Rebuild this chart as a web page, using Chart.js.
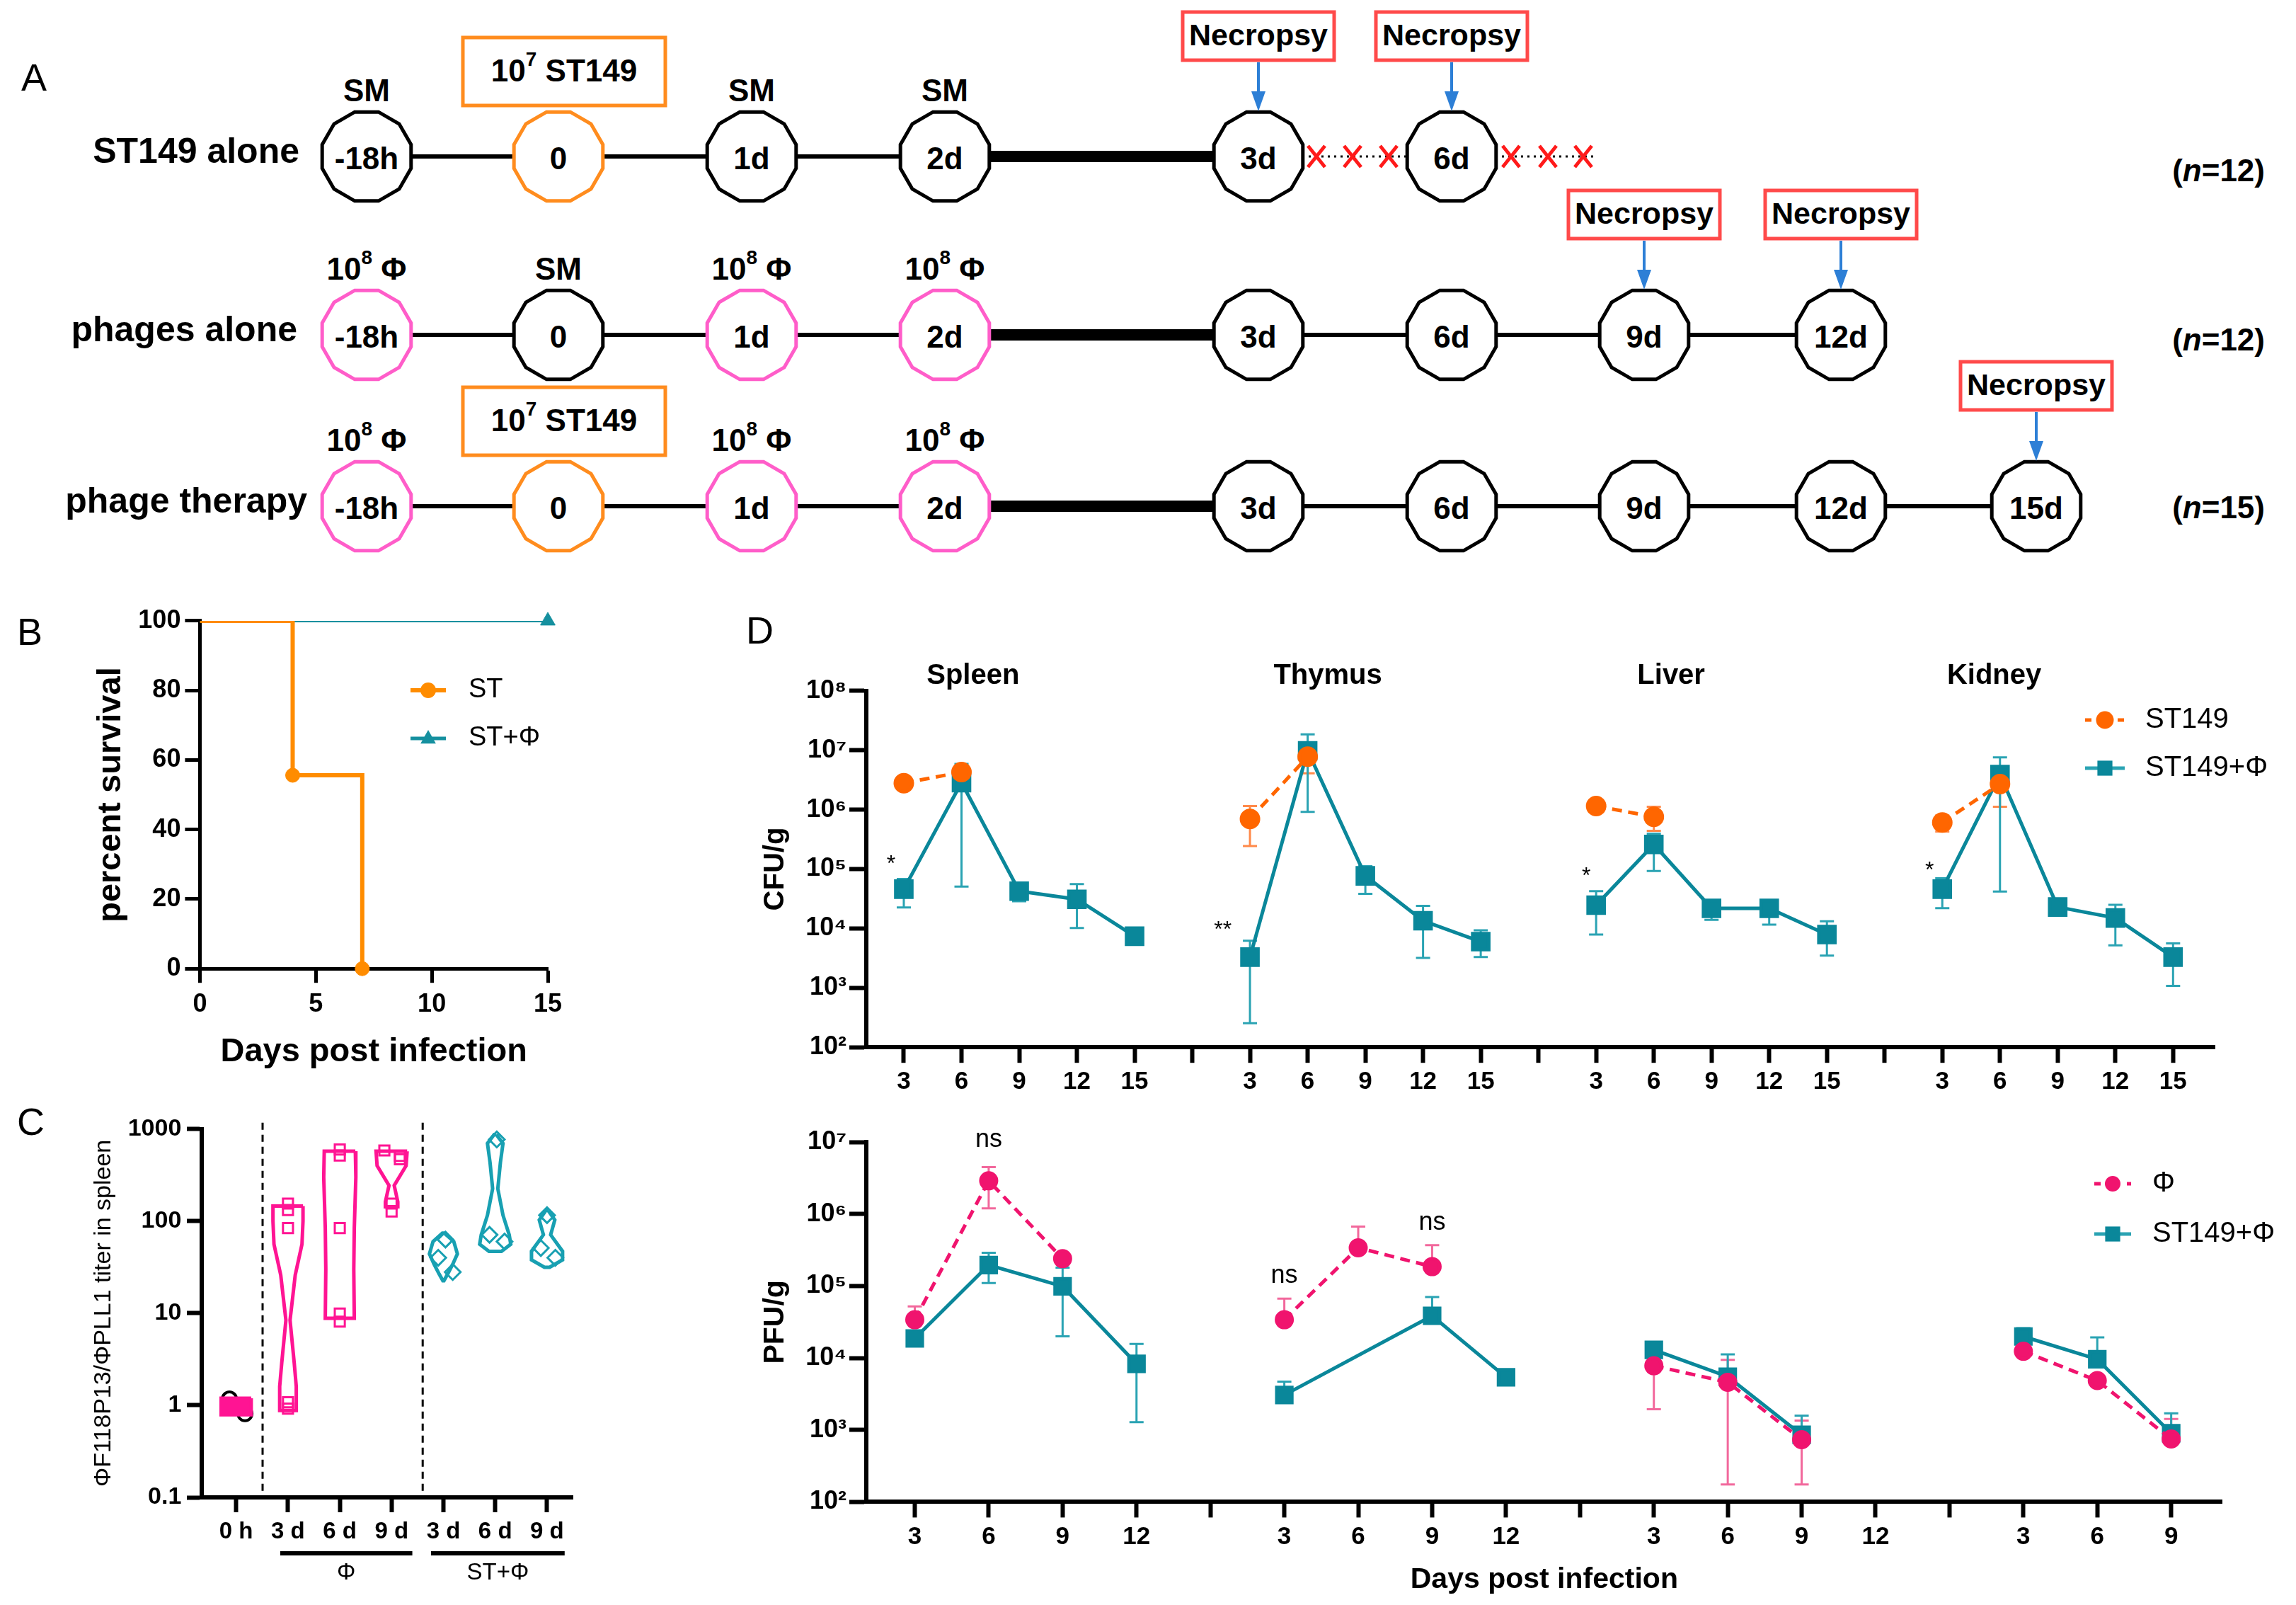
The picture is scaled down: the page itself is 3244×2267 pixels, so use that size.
<!DOCTYPE html>
<html>
<head>
<meta charset="utf-8">
<title>Phage therapy figure</title>
<script src="https://cdn.jsdelivr.net/npm/chart.js@4.4.1/dist/chart.umd.min.js"></script>
<style>
  html, body { margin: 0; padding: 0; background: #fff; }
  #page { position: relative; width: 3244px; height: 2267px; overflow: hidden;
          font-family: 'Liberation Sans', Arial, Helvetica, sans-serif; }
  canvas { position: absolute; }
  .panel { position: absolute; font-size: 54px; line-height: 1; color: #000; }
</style>
</head>
<body>
<div id="page">
  <svg id="schema" width="3244" height="800" style="position:absolute;left:0;top:0"></svg>
  <canvas id="survival" width="820" height="680" style="left:0;top:840px"></canvas>
  <canvas id="titer" width="830" height="727" style="left:0;top:1540px"></canvas>
  <canvas id="cfu" width="2204" height="720" style="left:1040px;top:840px"></canvas>
  <canvas id="pfu" width="2204" height="707" style="left:1040px;top:1560px"></canvas>
  <div class="panel" style="left:30px;top:82px">A</div>
  <div class="panel" style="left:24px;top:865px">B</div>
  <div class="panel" style="left:24px;top:1557px">C</div>
  <div class="panel" style="left:1054px;top:863px">D</div>
</div>
<script>
// ---------- data ----------
// A: schedule
const stageLabels = ['-18h', '0', '1d', '2d', '3d', '6d', '9d', '12d', '15d'];
const groups = ['ST149 alone', 'phages alone', 'phage therapy'];
const groupN = [12, 12, 15];
const groupStages = [6, 8, 9];
const groupDoses = [['SM', 'ST', 'SM', 'SM'], ['PHI', 'SM', 'PHI', 'PHI'], ['PHI', 'ST', 'PHI', 'PHI']];
const groupNecropsy = [[4, 5], [6, 7], [8]];

// B: survival
const survDays = [0, 4, 7];
const survST = [100, 55.6, 0];
const survPhiDays = [0, 15];
const survPhi = [100, 100];

// C: phage titer ratio in spleen
const titerGroups = ['0 h', '3 d', '6 d', '9 d', '3 d', '6 d', '9 d'];
const titerValues = [
  [1.17, 0.955, 0.81],
  [155, 132, 84, 1.08, 0.92],
  [600, 515, 84, 9.9, 8.1],
  [585, 510, 470, 155, 127],
  [63, 40, 28],
  [770, 71, 60],
  [116, 51, 40]
];
// violin outline: [value, half width]
const titerViolins = [
  [[1.19, 0.29], [0.79, 0.29]],
  [[146, 0.29], [100, 0.29], [56, 0.27], [26, 0.14], [8.4, 0.04], [2.9, 0.12], [1.6, 0.16], [0.88, 0.16]],
  [[575, 0.3], [300, 0.31], [84, 0.28], [30, 0.27], [8.8, 0.28]],
  [[575, 0.3], [400, 0.28], [244, 0.05], [162, 0.12], [143, 0.12]],
  [[74, 0.02], [60, 0.2], [44, 0.27], [34, 0.18], [26.5, 0.08], [22.5, 0.01]],
  [[870, 0.02], [700, 0.15], [433, 0.1], [225, 0.05], [116, 0.15], [71, 0.27], [56, 0.3], [47, 0.12]],
  [[131, 0.02], [103, 0.15], [71, 0.07], [47, 0.3], [38, 0.3], [31.5, 0.05]]
];
const titerUnder = [{from: 0.85, to: 3.4, text: 'Φ'}, {from: 3.76, to: 6.34, text: 'ST+Φ'}];
const titerSeparators = [0.51, 3.6];

// D top: CFU/g
const cfuDays = [3, 6, 9, 12, 15];
const cfuOrgans = ['Spleen', 'Thymus', 'Liver', 'Kidney'];
const cfuST149 = [[2.8e6, 4.3e6], [7.0e5, 7.8e6], [1.15e6, 7.6e5], [6.1e5, 2.7e6]];
const cfuST149Lo = [[null, null], [2.45e5, 4.1e6], [null, 4.4e5], [4.3e5, 1.12e6]];
const cfuST149Hi = [[null, null], [1.15e6, 1.18e7], [null, 1.12e6], [8.0e5, 4.2e6]];
const cfuCombo = [[4.6e4, 2.86e6, 4.25e4, 3.1e4, 7.4e3], [3.3e3, 9.8e6, 7.7e4, 1.35e4, 6.0e3],
                  [2.47e4, 2.6e5, 2.18e4, 2.18e4, 7.9e3], [4.6e4, 3.9e6, 2.3e4, 1.5e4, 3.3e3]];
const cfuComboLo = [[2.26e4, 5.06e4, 2.87e4, 1.02e4, 6.8e3], [254, 9.2e5, 3.84e4, 3.2e3, 3.3e3],
                    [7.9e3, 9.3e4, 1.4e4, 1.16e4, 3.5e3], [2.2e4, 4.2e4, 2.0e4, 5.2e3, 1.08e3]];
const cfuComboHi = [[6.8e4, 5.9e6, 4.9e4, 5.6e4, 8.4e3], [6.2e3, 1.85e7, 1.12e5, 2.4e4, 9.3e3],
                    [4.24e4, 3.95e5, 2.63e4, 3.0e4, 1.32e4], [7.0e4, 7.6e6, 2.6e4, 2.5e4, 5.6e3]];
const cfuStars = ['*', '**', '*', '*'];
const cfuStarValue = [1.5e5, 1.16e4, 9.3e4, 1.15e5];

// D bottom: PFU/g
const pfuDays = [3, 6, 9, 12];
const pfuTickCount = [4, 4, 4, 3];
const pfuPhi = [[3.4e4, 2.9e6, 2.4e5], [3.4e4, 3.4e5, 1.86e5], [7.8e3, 4.6e3, 733], [1.24e4, 4.85e3, 748]];
const pfuPhiLo = [[null, 1.2e6, null], [null, null, null], [1.94e3, 175, 175], [null, null, null]];
const pfuPhiHi = [[5.2e4, 4.5e6, null], [6.7e4, 6.7e5, 3.7e5], [null, 9.4e3, 1.35e3], [null, null, 1.42e3]];
const pfuCombo = [[1.87e4, 1.96e5, 9.9e4, 8.3e3], [3.06e3, null, 3.86e4, 5.4e3], [1.3e4, 5.5e3, 855], [1.99e4, 9.6e3, 900]];
const pfuComboLo = [[1.5e4, 1.1e5, 2.0e4, 1.28e3], [null, null, null, null], [null, null, null], [null, null, null]];
const pfuComboHi = [[2.2e4, 2.9e5, 1.8e5, 1.57e4], [4.7e3, null, 7.05e4, null], [null, 1.12e4, 1.58e3], [2.6e4, 1.93e4, 1.7e3]];
const pfuNs = [{slot: 2, y: 1.07e7}, {slot: 6, y: 1.4e5}, {slot: 8, y: 7.5e5}];

// ---------- style ----------
const FONT = "'Liberation Sans', Arial, Helvetica, sans-serif";
const TEAL = '#0A879A', TEAL_ERR = '#2AA3B3';
const ORANGE_D = '#FF6600', ORANGE_ERR = '#FF8A4A';
const PINK_D = '#F0146E', PINK_ERR = '#F2689C';
const ORANGE_B = '#FF8C00', TEAL_B = '#15909F';
const PINK_C = '#FF1493', TEAL_C = '#18A0B2';
const PINK_A = '#FF5DC9', ORANGE_A = '#FF8C1E', RED_A = '#FF4A4A', BLUE_A = '#2D7FD6';
const SUP = {2: '²', 3: '³', 4: '⁴', 5: '⁵', 6: '⁶', 7: '⁷', 8: '⁸'};

Chart.defaults.font.family = FONT;
Chart.defaults.color = '#000';
Chart.defaults.animation = false;

// ---------- A: schedule drawn as SVG ----------
const schema = document.getElementById('schema');
const stageX = [518, 789, 1062, 1335, 1778, 2051, 2323, 2601, 2877];
const rowY = [221, 473, 715];
const rowLabelX = [423, 420, 434];
const nLabelY = [240, 479, 716];
const deadX = [1860, 1911, 1962, 2135, 2187, 2237];

function svgEl(tag, attrs, text) {
  const e = document.createElementNS('http://www.w3.org/2000/svg', tag);
  for (const k in attrs) e.setAttribute(k, attrs[k]);
  if (text !== undefined) e.textContent = text;
  schema.appendChild(e);
  return e;
}
function dodecagon(cx, cy, r) {
  const pts = [];
  for (let i = 0; i < 12; i++) {
    const a = (15 + 30 * i) * Math.PI / 180;
    pts.push((cx + r * Math.cos(a)).toFixed(1) + ',' + (cy + r * Math.sin(a)).toFixed(1));
  }
  return pts.join(' ');
}
function doseText(x, y, kind) {
  const t = svgEl('text', {x: x, y: y, 'text-anchor': 'middle', 'dominant-baseline': 'central',
    'font-family': FONT, 'font-weight': 'bold', 'font-size': 44});
  if (kind === 'SM') { t.textContent = 'SM'; return; }
  const big = kind === 'ST';
  t.innerHTML = '10<tspan dy="-16" font-size="28">' + (big ? '7' : '8') + '</tspan><tspan dy="16"> ' + (big ? 'ST149' : 'Φ') + '</tspan>';
}

groups.forEach((name, r) => {
  const y = rowY[r];
  const count = groupStages[r];
  // connectors
  for (let i = 0; i < count - 1; i++) {
    svgEl('line', {x1: stageX[i] + 62, y1: y, x2: stageX[i + 1] - 62, y2: y,
      stroke: '#000', 'stroke-width': i === 3 ? 16 : 6});
  }
  if (r === 0) {
    svgEl('line', {x1: stageX[4] + 62, y1: y, x2: stageX[5] - 62, y2: y, stroke: '#fff', 'stroke-width': 8});
    svgEl('line', {x1: stageX[4] + 62, y1: y, x2: stageX[5] - 62, y2: y, stroke: '#000', 'stroke-width': 3, 'stroke-dasharray': '3 6'});
    svgEl('line', {x1: stageX[5] + 62, y1: y, x2: 2255, y2: y, stroke: '#000', 'stroke-width': 3, 'stroke-dasharray': '3 6'});
    deadX.forEach(x => {
      svgEl('path', {d: `M${x - 12} ${y - 15} L${x + 12} ${y + 15} M${x + 12} ${y - 15} L${x - 12} ${y + 15}`,
        stroke: '#FF1A1A', 'stroke-width': 5, fill: 'none'});
    });
  }
  // nodes
  for (let i = 0; i < count; i++) {
    const dose = groupDoses[r][i];
    const col = dose === 'ST' ? ORANGE_A : dose === 'PHI' ? PINK_A : '#000';
    svgEl('polygon', {points: dodecagon(stageX[i], y, 65), fill: '#fff', stroke: col, 'stroke-width': 5});
    svgEl('text', {x: stageX[i], y: y + 2, 'text-anchor': 'middle', 'dominant-baseline': 'central',
      'font-family': FONT, 'font-weight': 'bold', 'font-size': 44}, stageLabels[i]);
    if (dose === 'ST') {
      svgEl('rect', {x: stageX[i] + 8 - 143, y: y - 168, width: 286, height: 96, fill: '#fff', stroke: ORANGE_A, 'stroke-width': 5});
      doseText(stageX[i] + 8, y - 122, 'ST');
    } else if (dose) {
      doseText(stageX[i], y - 94, dose);
    }
  }
  // necropsy
  groupNecropsy[r].forEach(i => {
    const x = stageX[i];
    svgEl('rect', {x: x - 107, y: y - 204, width: 214, height: 68, fill: '#fff', stroke: RED_A, 'stroke-width': 5});
    svgEl('text', {x: x, y: y - 172, 'text-anchor': 'middle', 'dominant-baseline': 'central',
      'font-family': FONT, 'font-weight': 'bold', 'font-size': 43}, 'Necropsy');
    svgEl('line', {x1: x, y1: y - 133, x2: x, y2: y - 90, stroke: BLUE_A, 'stroke-width': 4});
    svgEl('polygon', {points: `${x - 10},${y - 92} ${x + 10},${y - 92} ${x},${y - 64}`, fill: BLUE_A});
  });
  // row label and n
  svgEl('text', {x: rowLabelX[r], y: y - 8, 'text-anchor': 'end', 'dominant-baseline': 'central',
    'font-family': FONT, 'font-weight': 'bold', 'font-size': 50}, name);
  const n = svgEl('text', {x: 3200, y: nLabelY[r], 'text-anchor': 'end', 'dominant-baseline': 'central',
    'font-family': FONT, 'font-weight': 'bold', 'font-size': 44});
  n.innerHTML = '(<tspan font-style="italic">n</tspan>=' + groupN[r] + ')';
});

// ---------- shared chart helpers ----------
function axis(extra) {
  return Object.assign({
    border: {display: true, color: '#000', width: 6},
    grid: {display: true, drawOnChartArea: false, drawTicks: true, tickLength: 22, tickWidth: 6, tickColor: '#000'}
  }, extra);
}
function drawMarker(ctx, style, x, y, r) {
  ctx.beginPath();
  if (style === 'circle') ctx.arc(x, y, r, 0, Math.PI * 2);
  else if (style === 'rect') { const s = r * Math.SQRT1_2; ctx.rect(x - s, y - s, 2 * s, 2 * s); }
  else if (style === 'triangle') { ctx.moveTo(x, y - r); ctx.lineTo(x + r * 0.9, y + r * 0.6); ctx.lineTo(x - r * 0.9, y + r * 0.6); ctx.closePath(); }
  ctx.fill();
}
function legendEntry(ctx, e) {
  ctx.save();
  ctx.strokeStyle = e.lineColor || e.color;
  ctx.lineWidth = e.lineWidth || 5;
  ctx.setLineDash(e.dash || []);
  ctx.beginPath(); ctx.moveTo(e.x0, e.y); ctx.lineTo(e.x1, e.y); ctx.stroke();
  ctx.setLineDash([]);
  ctx.fillStyle = e.color;
  drawMarker(ctx, e.style, (e.x0 + e.x1) / 2, e.y, e.r);
  ctx.fillStyle = '#000';
  ctx.font = e.font;
  ctx.textAlign = 'left'; ctx.textBaseline = 'middle';
  ctx.fillText(e.text, e.tx, e.y);
  ctx.restore();
}
const errorBars = {
  id: 'errorBars',
  beforeDatasetsDraw(chart) {
    const {ctx} = chart;
    const xs = chart.scales.x, ys = chart.scales.y;
    chart.data.datasets.forEach(ds => {
      if (!ds.errLo) return;
      ctx.save();
      ctx.strokeStyle = ds.errColor;
      ctx.lineWidth = 3;
      ds.data.forEach((p, j) => {
        if (p.y == null) return;
        const px = xs.getPixelForValue(p.x), py = ys.getPixelForValue(p.y);
        [ds.errLo[j], ds.errHi[j]].forEach(v => {
          if (v == null) return;
          const e = ys.getPixelForValue(v);
          ctx.beginPath();
          ctx.moveTo(px, py); ctx.lineTo(px, e);
          ctx.moveTo(px - 10, e); ctx.lineTo(px + 10, e);
          ctx.stroke();
        });
      });
      ctx.restore();
    });
  }
};
const baseOptions = {
  responsive: false,
  devicePixelRatio: 1,
  animation: false,
  events: [],
  plugins: {legend: {display: false}, tooltip: {enabled: false}}
};

// ---------- B: survival ----------
new Chart(document.getElementById('survival'), {
  type: 'scatter',
  data: {
    datasets: [
      {data: survDays.map((d, i) => ({x: d, y: survST[i]})), showLine: true, stepped: true,
       borderColor: ORANGE_B, borderWidth: 6, pointRadius: 0, clip: 0},
      {data: survDays.slice(1).map((d, i) => ({x: d, y: survST[i + 1]})), pointRadius: 10,
       pointBackgroundColor: ORANGE_B, pointBorderColor: ORANGE_B, clip: false},
      {data: survPhiDays.map((d, i) => ({x: d, y: survPhi[i]})), showLine: true,
       borderColor: TEAL_B, borderWidth: 4, pointRadius: 0, clip: 0},
      {data: [{x: survPhiDays[1], y: survPhi[1]}], pointStyle: 'triangle', pointRadius: 12,
       pointBackgroundColor: TEAL_B, pointBorderColor: TEAL_B, clip: false}
    ]
  },
  options: Object.assign({}, baseOptions, {
    layout: {padding: {top: 36.9, right: 46, left: 0, bottom: 0}},
    scales: {
      x: axis({type: 'linear', min: 0, max: 15,
        afterBuildTicks: s => { s.ticks = [0, 5, 10, 15].map(v => ({value: v})); },
        afterFit: s => { s.height = 151.8; },
        ticks: {font: {size: 36, weight: 'bold'}, padding: 9, maxRotation: 0},
        grid: {display: true, drawOnChartArea: false, drawTicks: true, tickLength: 20, tickWidth: 5, tickColor: '#000'},
        border: {display: true, color: '#000', width: 5},
        title: {display: true, text: 'Days post infection', font: {size: 47, weight: 'bold', lineHeight: 1.2}, padding: {top: 0, bottom: 5.8}}}),
      y: axis({type: 'linear', min: 0, max: 100,
        afterBuildTicks: s => { s.ticks = [0, 20, 40, 60, 80, 100].map(v => ({value: v})); },
        afterFit: s => { s.width = 282.4; },
        ticks: {font: {size: 36, weight: 'bold'}, padding: 6},
        grid: {display: true, drawOnChartArea: false, drawTicks: true, tickLength: 21, tickWidth: 5, tickColor: '#000'},
        border: {display: true, color: '#000', width: 5},
        title: {display: true, text: 'percent survival', font: {size: 47, weight: 'bold', lineHeight: 1.2}, padding: {top: 128.8, bottom: 0}}})
    }
  }),
  plugins: [{
    id: 'survLegend',
    afterDraw(chart) {
      const ctx = chart.ctx;
      legendEntry(ctx, {x0: 580, x1: 630, y: 135, color: ORANGE_B, style: 'circle', r: 11, text: 'ST', tx: 662, font: '38px ' + FONT, lineWidth: 6});
      legendEntry(ctx, {x0: 580, x1: 630, y: 203, color: TEAL_B, style: 'triangle', r: 12, text: 'ST+Φ', tx: 662, font: '38px ' + FONT, lineWidth: 5});
    }
  }]
});

// ---------- C: titer violins ----------
const titerJitter = [[-0.13, 0.01, 0.17], [0, 0, 0, 0, 0], [0, 0, 0, 0, 0], [-0.14, 0.16, 0.16, 0, 0],
                     [0.04, -0.1, 0.18], [0.03, -0.11, 0.18], [0, -0.12, 0.16]];
const titerSets = [];
titerViolins.forEach((outline, g) => {
  const col = g >= 4 ? TEAL_C : PINK_C;
  const right = outline.map(([v, w]) => ({x: g + w, y: v}));
  const left = outline.slice().reverse().map(([v, w]) => ({x: g - w, y: v}));
  const pts = right.concat(left, [right[0]]);
  titerSets.push({data: pts, showLine: true, borderColor: col, borderWidth: 5, pointRadius: 0,
    fill: g === 0 ? 'shape' : false, backgroundColor: col, clip: false});
});
titerValues.forEach((vals, g) => {
  const style = g === 0 ? 'circle' : g >= 4 ? 'rectRot' : 'rect';
  const col = g === 0 ? '#000' : g >= 4 ? TEAL_C : PINK_C;
  titerSets.push({data: vals.map((v, k) => ({x: g + titerJitter[g][k], y: v})),
    pointStyle: style, pointRadius: g === 0 ? 10 : g >= 4 ? 11 : 10, pointBorderWidth: g === 0 ? 4 : 3,
    pointBorderColor: col, pointBackgroundColor: 'rgba(0,0,0,0)', clip: false});
});
titerSeparators.forEach(s => {
  titerSets.push({data: [{x: s, y: 1170}, {x: s, y: 0.1}], showLine: true, borderColor: '#000',
    borderWidth: 3, borderDash: [10, 7], pointRadius: 0, clip: false});
});

new Chart(document.getElementById('titer'), {
  type: 'scatter',
  data: {datasets: titerSets},
  options: Object.assign({}, baseOptions, {
    layout: {padding: {top: 54.7, right: 20.5, left: 0, bottom: 0}},
    scales: {
      x: axis({type: 'linear', min: -0.665, max: 6.5,
        afterBuildTicks: s => { s.ticks = titerGroups.map((t, i) => ({value: i})); },
        afterFit: s => { s.height = 152; },
        ticks: {font: {size: 33, weight: 'bold'}, padding: 8, maxRotation: 0, autoSkip: false,
          callback: v => titerGroups[v] || ''},
        grid: {display: true, drawOnChartArea: false, drawTicks: true, tickLength: 21, tickWidth: 6, tickColor: '#000'}}),
      y: axis({type: 'logarithmic', min: 0.1, max: 1000,
        afterBuildTicks: s => { s.ticks = [0.1, 1, 10, 100, 1000].map(v => ({value: v})); },
        afterFit: s => { s.width = 285; },
        ticks: {font: {size: 34, weight: 'bold'}, padding: 7.7, callback: v => String(v)},
        grid: {display: true, drawOnChartArea: false, drawTicks: true, tickLength: 21, tickWidth: 6, tickColor: '#000'},
        title: {display: true, text: 'ΦF118P13/ΦPLL1 titer in spleen', font: {size: 34, lineHeight: 1.2}, padding: {top: 126, bottom: 0}}})
    }
  }),
  plugins: [{
    id: 'titerUnder',
    afterDraw(chart) {
      const ctx = chart.ctx, xs = chart.scales.x;
      ctx.save();
      titerUnder.forEach(u => {
        ctx.fillStyle = '#000';
        const a = xs.getPixelForValue(u.from), b = xs.getPixelForValue(u.to);
        ctx.fillRect(a, 651, b - a, 6);
        ctx.font = '33px ' + FONT;
        ctx.textAlign = 'center'; ctx.textBaseline = 'middle';
        ctx.fillText(u.text, (a + b) / 2, 682);
      });
      ctx.restore();
    }
  }]
});

// ---------- D top: CFU ----------
const cfuSlots = [], cfuText = {};
cfuOrgans.forEach((o, g) => {
  cfuDays.forEach((d, k) => { cfuSlots.push(g * 6 + 1 + k); cfuText[g * 6 + 1 + k] = String(d); });
  if (g < cfuOrgans.length - 1) { cfuSlots.push(g * 6 + 6); cfuText[g * 6 + 6] = ''; }
});
const cfuSets = [];
cfuOrgans.forEach((o, g) => {
  cfuSets.push({data: cfuST149[g].map((v, k) => ({x: g * 6 + 1 + k, y: v})),
    errLo: cfuST149Lo[g], errHi: cfuST149Hi[g], errColor: ORANGE_ERR,
    showLine: true, borderColor: ORANGE_D, borderWidth: 5, borderDash: [14, 9],
    pointStyle: 'circle', pointRadius: 12, pointBackgroundColor: ORANGE_D, pointBorderColor: ORANGE_D, clip: false});
});
cfuOrgans.forEach((o, g) => {
  cfuSets.push({data: cfuCombo[g].map((v, k) => ({x: g * 6 + 1 + k, y: v})),
    errLo: cfuComboLo[g], errHi: cfuComboHi[g], errColor: TEAL_ERR,
    showLine: true, spanGaps: true, borderColor: TEAL, borderWidth: 5,
    pointStyle: 'rect', pointRadius: 16, pointBackgroundColor: TEAL, pointBorderColor: TEAL, clip: false});
});
const cfuTitleSlot = [2.2, 8.35, 14.3, 19.9];
const cfuStarOffset = [-0.22, -0.47, -0.17, -0.22];

new Chart(document.getElementById('cfu'), {
  type: 'scatter',
  data: {datasets: cfuSets},
  options: Object.assign({}, baseOptions, {
    layout: {padding: {top: 135.9, right: 115, left: 0, bottom: 0}},
    scales: {
      x: axis({type: 'linear', min: 0.35, max: 23.72,
        afterBuildTicks: s => { s.ticks = cfuSlots.map(v => ({value: v})); },
        afterFit: s => { s.height = 80.8; },
        ticks: {font: {size: 35, weight: 'bold'}, padding: 6.6, maxRotation: 0, autoSkip: false,
          callback: v => cfuText[v] || ''}}),
      y: axis({type: 'logarithmic', min: 1e2, max: 1e8,
        afterBuildTicks: s => { s.ticks = [1e2, 1e3, 1e4, 1e5, 1e6, 1e7, 1e8].map(v => ({value: v})); },
        afterFit: s => { s.width = 184; },
        ticks: {font: {size: 36, weight: 'bold'}, padding: 4, callback: v => '10' + SUP[Math.round(Math.log10(v))]},
        grid: {display: true, drawOnChartArea: false, drawTicks: true, tickLength: 24, tickWidth: 6, tickColor: '#000'},
        title: {display: true, text: 'CFU/g', font: {size: 40, weight: 'bold', lineHeight: 1.2}, padding: {top: 32, bottom: 0}}})
    }
  }),
  plugins: [errorBars, {
    id: 'cfuDecor',
    afterDraw(chart) {
      const ctx = chart.ctx, xs = chart.scales.x, ys = chart.scales.y;
      ctx.save();
      ctx.fillStyle = '#000';
      ctx.textAlign = 'center'; ctx.textBaseline = 'middle';
      ctx.font = 'bold 40px ' + FONT;
      cfuOrgans.forEach((o, g) => ctx.fillText(o, xs.getPixelForValue(cfuTitleSlot[g]), chart.chartArea.top - 21));
      ctx.font = '32px ' + FONT;
      cfuStars.forEach((s, g) => ctx.fillText(s, xs.getPixelForValue(g * 6 + 1 + cfuStarOffset[g]), ys.getPixelForValue(cfuStarValue[g]) + 8));
      ctx.restore();
      legendEntry(ctx, {x0: 1906, x1: 1962, y: 177, color: ORANGE_D, style: 'circle', r: 12.5, text: 'ST149', tx: 1991, font: '40px ' + FONT, dash: [9, 14]});
      legendEntry(ctx, {x0: 1906, x1: 1962, y: 245, color: TEAL, lineColor: TEAL_ERR, style: 'rect', r: 15, text: 'ST149+Φ', tx: 1991, font: '40px ' + FONT});
    }
  }]
});

// ---------- D bottom: PFU ----------
const pfuSlots = [], pfuText = {};
pfuTickCount.forEach((c, g) => {
  for (let k = 0; k < c; k++) { pfuSlots.push(g * 5 + 1 + k); pfuText[g * 5 + 1 + k] = String(pfuDays[k]); }
  if (g < pfuTickCount.length - 1) { pfuSlots.push(g * 5 + 5); pfuText[g * 5 + 5] = ''; }
});
const pfuSets = [];
pfuPhi.forEach((vals, g) => {
  pfuSets.push({data: vals.map((v, k) => ({x: g * 5 + 1 + k, y: v})),
    errLo: pfuPhiLo[g], errHi: pfuPhiHi[g], errColor: PINK_ERR,
    showLine: true, borderColor: PINK_D, borderWidth: 5, borderDash: [14, 9],
    pointStyle: 'circle', pointRadius: 11, pointBackgroundColor: PINK_D, pointBorderColor: PINK_D, clip: false});
});
pfuCombo.forEach((vals, g) => {
  pfuSets.push({data: vals.map((v, k) => ({x: g * 5 + 1 + k, y: v})),
    errLo: pfuComboLo[g], errHi: pfuComboHi[g], errColor: TEAL_ERR,
    showLine: true, spanGaps: true, borderColor: TEAL, borderWidth: 5,
    pointStyle: 'rect', pointRadius: 15, pointBackgroundColor: TEAL, pointBorderColor: TEAL, clip: false});
});

new Chart(document.getElementById('pfu'), {
  type: 'scatter',
  data: {datasets: pfuSets},
  options: Object.assign({}, baseOptions, {
    layout: {padding: {top: 53.2, right: 104.3, left: 0, bottom: 0}},
    scales: {
      x: axis({type: 'linear', min: 0.344, max: 18.69,
        afterBuildTicks: s => { s.ticks = pfuSlots.map(v => ({value: v})); },
        afterFit: s => { s.height = 145.6; },
        ticks: {font: {size: 35, weight: 'bold'}, padding: 6.6, maxRotation: 0, autoSkip: false,
          callback: v => pfuText[v] || ''},
        title: {display: true, text: 'Days post infection', font: {size: 41, weight: 'bold', lineHeight: 1.2}, padding: {top: 0, bottom: 10.6}}}),
      y: axis({type: 'logarithmic', min: 1e2, max: 1e7,
        afterBuildTicks: s => { s.ticks = [1e2, 1e3, 1e4, 1e5, 1e6, 1e7].map(v => ({value: v})); },
        afterFit: s => { s.width = 184; },
        ticks: {font: {size: 36, weight: 'bold'}, padding: 4, callback: v => '10' + SUP[Math.round(Math.log10(v))]},
        grid: {display: true, drawOnChartArea: false, drawTicks: true, tickLength: 24, tickWidth: 6, tickColor: '#000'},
        title: {display: true, text: 'PFU/g', font: {size: 41, weight: 'bold', lineHeight: 1.2}, padding: {top: 31.4, bottom: 0}}})
    }
  }),
  plugins: [errorBars, {
    id: 'pfuDecor',
    afterDraw(chart) {
      const ctx = chart.ctx, xs = chart.scales.x, ys = chart.scales.y;
      ctx.save();
      ctx.fillStyle = '#000';
      ctx.textAlign = 'center'; ctx.textBaseline = 'middle';
      ctx.font = '36px ' + FONT;
      pfuNs.forEach(n => ctx.fillText('ns', xs.getPixelForValue(n.slot), ys.getPixelForValue(n.y)));
      ctx.restore();
      legendEntry(ctx, {x0: 1919, x1: 1971, y: 112, color: PINK_D, style: 'circle', r: 11, text: 'Φ', tx: 2001, font: '40px ' + FONT, dash: [9, 14]});
      legendEntry(ctx, {x0: 1919, x1: 1971, y: 183, color: TEAL, lineColor: TEAL_ERR, style: 'rect', r: 15, text: 'ST149+Φ', tx: 2001, font: '40px ' + FONT});
    }
  }]
});
</script>
</body>
</html>
